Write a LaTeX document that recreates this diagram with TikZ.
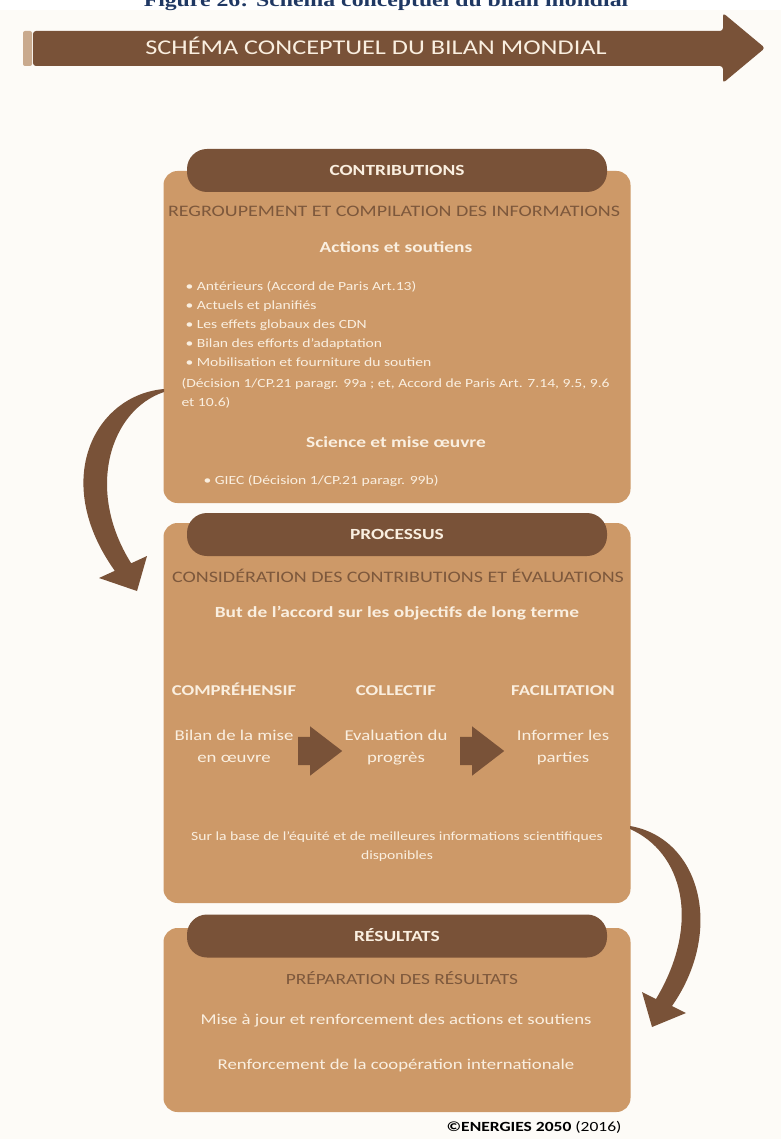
\documentclass[tikz,border=0pt]{standalone}
\usepackage{fontspec}
\setmainfont[FakeStretch=1.25]{Carlito}
\newfontfamily\capfont[FakeStretch=1.25]{Liberation Serif}
\usetikzlibrary{shapes.arrows}

\definecolor{bark}{RGB}{121,82,56}
\definecolor{barkcap}{RGB}{201,170,142}
\definecolor{tan}{RGB}{205,153,104}
\definecolor{ink}{RGB}{125,88,60}
\definecolor{cream}{RGB}{250,239,224}
\definecolor{paper}{RGB}{253,251,247}
\definecolor{navy}{RGB}{31,56,100}

\begin{document}
\begin{tikzpicture}[
		x=1pt, y=-1pt,
		panel/.style = {fill=tan, rounded corners=14pt, minimum width=467pt, inner sep=0pt},
		pill/.style = {fill=bark, rounded corners=20pt, minimum width=420pt, minimum height=43pt, text=cream, text height=10pt, text depth=0pt, font=\bfseries\fontsize{15.5}{18}\selectfont},
		stage/.style = {anchor=base, text=ink, font=\fontsize{16}{19}\selectfont},
		lead/.style = {anchor=base, text=cream, font=\bfseries\fontsize{15.5}{19}\selectfont},
		items/.style = {anchor=base west, align=left, text=cream, font=\fontsize{12.5}{18.8}\selectfont},
		colhead/.style = {anchor=base, text=cream, font=\bfseries\fontsize{15}{18}\selectfont},
		coltext/.style = {anchor=base, align=center, text=cream, font=\fontsize{15}{22}\selectfont},
		flowarrow/.style = {single arrow, fill=bark, anchor=tail, inner sep=0pt, text height=14pt, text depth=14pt, minimum height=44pt, minimum width=49pt, single arrow head extend=10.5pt, single arrow tip angle=75},
		bendarrow/.style = {fill=bark}
	]
	\useasboundingbox (0,0) rectangle (781,1139);
	\clip (0,0) rectangle (781,1139);
	\fill[white] (0,0) rectangle (781,1139);
	\fill[paper] (0,10) rectangle (781,1139);
	% Caption of the page, cut at the top
	\node[anchor=base, text=navy, font=\capfont\bfseries\fontsize{19}{22}\selectfont] (caption) at (386,7) {Figure 26: Schéma conceptuel du bilan mondial};
	% Banner arrow
	\fill[barkcap, rounded corners=2pt] (23,31) rectangle (32,66);
	\fill[bark, rounded corners=3pt] (33,31) -- (723,31) -- (723,13) -- (765,48) -- (723,83) -- (723,66) -- (33,66) -- cycle;
	\node[anchor=base, text=cream, font=\fontsize{21}{24}\selectfont] (banner) at (376,55) {SCHÉMA CONCEPTUEL DU BILAN MONDIAL};
	% Draw the panels and their headers
	\node[panel, minimum height=332pt] (contribbox) at (397,337) {};
	\node[panel, minimum height=380pt] (processbox) at (397,713) {};
	\node[panel, minimum height=184pt] (resultbox) at (397,1020) {};
	\node[pill] (contrib) at (397,170.5) {CONTRIBUTIONS};
	\node[pill] (process) at (397,534.5) {PROCESSUS};
	\node[pill] (result) at (397,936) {RÉSULTATS};
	% Contributions
	\node[stage] (gather) at (394,217) {REGROUPEMENT ET COMPILATION DES INFORMATIONS};
	\node[lead] (actions) at (396,253) {Actions et soutiens};
	\node[items] (actlist) at (182,366) {• Antérieurs (Accord de Paris Art.13)\\• Actuels et planifiés\\• Les effets globaux des CDN\\• Bilan des efforts d’adaptation\\• Mobilisation et fourniture du soutien};
	\node[items] (decision) at (178,406) {(Décision 1/CP.21 paragr. 99a ; et, Accord de Paris Art. 7.14, 9.5, 9.6\\et 10.6)};
	\node[lead] (science) at (396,447) {Science et mise œuvre};
	\node[items] (giec) at (200,484) {• GIEC (Décision 1/CP.21 paragr. 99b)};
	% Processus
	\node[stage] (consider) at (398,582) {CONSIDÉRATION DES CONTRIBUTIONS ET ÉVALUATIONS};
	\node[lead] (goal) at (397,617) {But de l’accord sur les objectifs de long terme};
	\node[colhead] (comp) at (234,695) {COMPRÉHENSIF};
	\node[colhead] (coll) at (396,695) {COLLECTIF};
	\node[colhead] (facil) at (563,695) {FACILITATION};
	\node[coltext] (review) at (234,762) {Bilan de la mise\\en œuvre};
	\node[coltext] (progress) at (396,762) {Evaluation du\\progrès};
	\node[coltext] (inform) at (563,762) {Informer les\\parties};
	\node[flowarrow] (step1) at (298,751) {};
	\node[flowarrow] (step2) at (460,751) {};
	\node[coltext, font=\fontsize{12.5}{18.5}\selectfont] (basis) at (397,859) {Sur la base de l’équité et de meilleures informations scientifiques\\disponibles};
	% Resultats
	\node[stage, font=\fontsize{15.5}{19}\selectfont] (prepare) at (402,984) {PRÉPARATION DES RÉSULTATS};
	\node[coltext] (update) at (396,1024) {Mise à jour et renforcement des actions et soutiens};
	\node[coltext] (coop) at (396,1069) {Renforcement de la coopération internationale};
	\node[anchor=base east, text=black, font=\fontsize{14}{16}\selectfont] (credit) at (625,1131) {\textbf{©ENERGIES 2050} (2016)};
	% Draw the bent arrows between the panels
	\fill[bendarrow] (164,389) .. controls (95,395) and (50,480) .. (114.8,570.8) -- (99,578) -- (137,591) -- (147,556) -- (131.2,563.3) .. controls (85,490) and (110,410) .. (164,392) -- cycle;
	\fill[bendarrow] (630,826) .. controls (700,838) and (725,930) .. (672,1006) -- (686,1013) -- (652,1027) -- (642,992) -- (656,999) .. controls (702,922) and (682,852) .. (630,829) -- cycle;
\end{tikzpicture}
\end{document}
